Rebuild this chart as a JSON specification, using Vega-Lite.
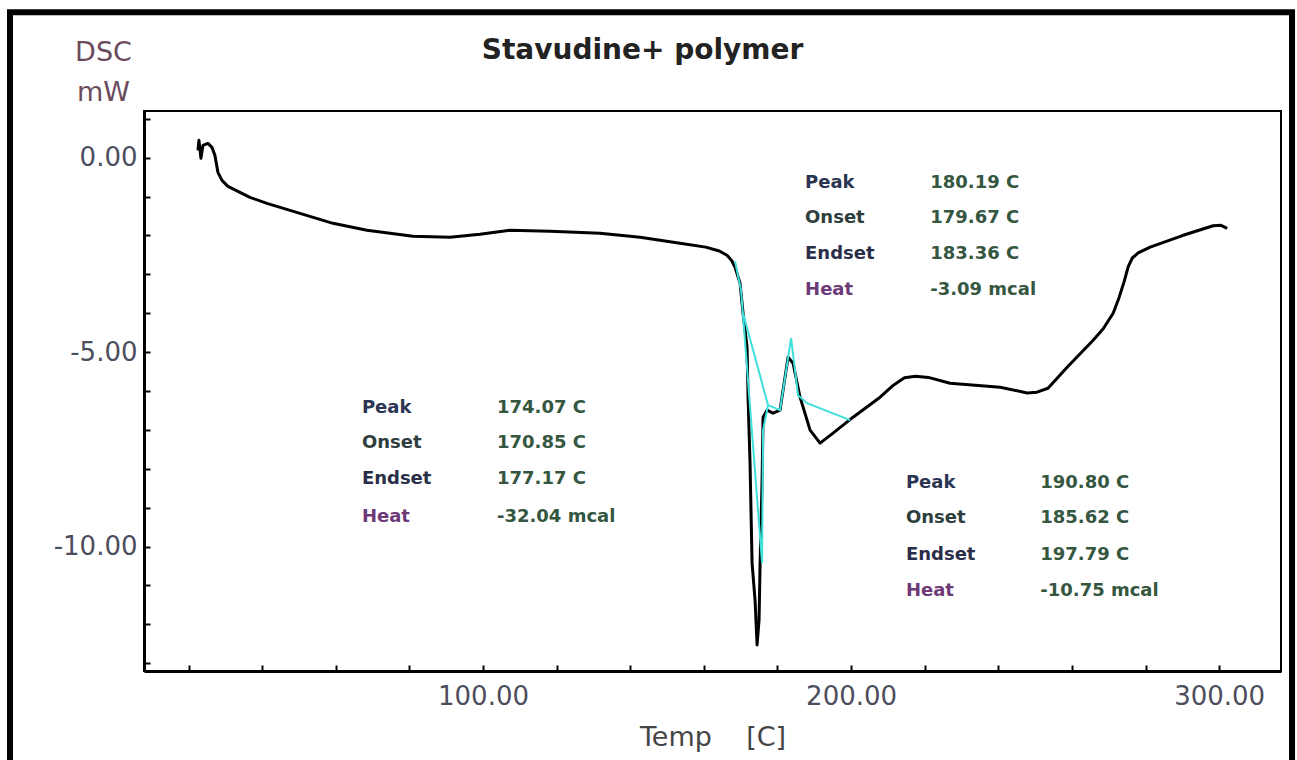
{
  "$schema": "https://vega.github.io/schema/vega-lite/v6.json",
  "width": 1137,
  "height": 560,
  "autosize": {"type": "none"},
  "padding": {"left": 144, "top": 111, "right": 16, "bottom": 89},
  "background": "white",
  "config": {"view": {"stroke": "black", "strokeWidth": 2}, "font": "DejaVu Sans"},
  "title": {"text": "Stavudine+ polymer", "anchor": "middle", "dx": -70, "fontSize": 28, "font": "DejaVu Sans", "fontWeight": "bold", "color": "#222222", "baseline": "alphabetic", "offset": -78},
  "datasets": {
    "frame": [{"T": -28.5, "T2": 319.8, "mW": 3.74, "mW2": -16.3}],
    "curve": [
      {"T": 22.55, "mW": 0.188}, {"T": 22.83, "mW": 0.445}, {"T": 23.37, "mW": -0.018}, {"T": 23.91, "mW": 0.316},
      {"T": 25.27, "mW": 0.367}, {"T": 26.36, "mW": 0.265}, {"T": 27.17, "mW": 0.059}, {"T": 27.99, "mW": -0.378},
      {"T": 29.08, "mW": -0.583}, {"T": 30.71, "mW": -0.737}, {"T": 36.68, "mW": -1.02}, {"T": 41.3, "mW": -1.174},
      {"T": 50.27, "mW": -1.431}, {"T": 59.24, "mW": -1.688}, {"T": 68.48, "mW": -1.868}, {"T": 80.98, "mW": -2.022},
      {"T": 91.03, "mW": -2.048}, {"T": 99.18, "mW": -1.971}, {"T": 107.34, "mW": -1.868}, {"T": 118.21, "mW": -1.894},
      {"T": 131.79, "mW": -1.945}, {"T": 142.66, "mW": -2.048}, {"T": 153.53, "mW": -2.202}, {"T": 160.5, "mW": -2.3},
      {"T": 164.2, "mW": -2.4}, {"T": 166.3, "mW": -2.51}, {"T": 167.6, "mW": -2.65}, {"T": 168.48, "mW": -2.819},
      {"T": 169.84, "mW": -3.23}, {"T": 170.65, "mW": -4.001},
      {"T": 171.74, "mW": -4.874}, {"T": 172.01, "mW": -6.159}, {"T": 172.55, "mW": -7.855}, {"T": 173.1, "mW": -10.424},
      {"T": 173.91, "mW": -11.375}, {"T": 174.46, "mW": -12.531}, {"T": 175.0, "mW": -11.888}, {"T": 175.27, "mW": -10.475},
      {"T": 175.82, "mW": -8.291}, {"T": 176.09, "mW": -6.672}, {"T": 177.17, "mW": -6.492}, {"T": 178.8, "mW": -6.57},
      {"T": 180.71, "mW": -6.492}, {"T": 181.52, "mW": -5.978}, {"T": 182.88, "mW": -5.13}, {"T": 184.24, "mW": -5.285},
      {"T": 186.14, "mW": -6.159}, {"T": 188.86, "mW": -7.007}, {"T": 191.58, "mW": -7.341}, {"T": 195.11, "mW": -7.084},
      {"T": 200.54, "mW": -6.673}, {"T": 207.88, "mW": -6.159}, {"T": 211.5, "mW": -5.85}, {"T": 214.5, "mW": -5.66},
      {"T": 217.5, "mW": -5.62}, {"T": 221.0, "mW": -5.65}, {"T": 226.9, "mW": -5.799}, {"T": 240.49, "mW": -5.902},
      {"T": 247.83, "mW": -6.05}, {"T": 250.5, "mW": -6.03}, {"T": 253.5, "mW": -5.93}, {"T": 258.7, "mW": -5.388},
      {"T": 265.76, "mW": -4.694}, {"T": 268.5, "mW": -4.4}, {"T": 271.2, "mW": -4.0}, {"T": 272.8, "mW": -3.6},
      {"T": 274.2, "mW": -3.18}, {"T": 275.3, "mW": -2.8}, {"T": 276.4, "mW": -2.58}, {"T": 278.0, "mW": -2.45},
      {"T": 281.25, "mW": -2.3}, {"T": 290.22, "mW": -1.996}, {"T": 298.37, "mW": -1.75}, {"T": 300.5, "mW": -1.74},
      {"T": 302.17, "mW": -1.816}
    ],
    "fit": [
      {"seg": "a", "T": 168.48, "mW": -2.665}, {"seg": "a", "T": 170.11, "mW": -3.41}, {"seg": "a", "T": 175.82, "mW": -10.424},
      {"seg": "a", "T": 176.09, "mW": -7.007}, {"seg": "a", "T": 177.45, "mW": -6.364}, {"seg": "a", "T": 180.71, "mW": -6.492},
      {"seg": "a", "T": 183.7, "mW": -4.642},
      {"seg": "b", "T": 170.65, "mW": -4.001}, {"seg": "b", "T": 177.45, "mW": -6.364},
      {"seg": "c", "T": 183.7, "mW": -4.642}, {"seg": "c", "T": 185.6, "mW": -6.107}, {"seg": "c", "T": 188.04, "mW": -6.312},
      {"seg": "c", "T": 199.73, "mW": -6.749}
    ],
    "notes": [
      {"role": "label", "name": "Peak", "text": "Peak", "T": 187.5, "mW": -0.66},
      {"role": "label", "name": "Onset", "text": "Onset", "T": 187.5, "mW": -1.56},
      {"role": "label", "name": "Endset", "text": "Endset", "T": 187.5, "mW": -2.485},
      {"role": "label", "name": "Heat", "text": "Heat", "T": 187.5, "mW": -3.41},
      {"role": "value", "name": "Peak", "text": "180.19 C", "T": 221.5, "mW": -0.66},
      {"role": "value", "name": "Onset", "text": "179.67 C", "T": 221.5, "mW": -1.56},
      {"role": "value", "name": "Endset", "text": "183.36 C", "T": 221.5, "mW": -2.485},
      {"role": "value", "name": "Heat", "text": "-3.09 mcal", "T": 221.5, "mW": -3.41},
      {"role": "label", "name": "Peak", "text": "Peak", "T": 67.1, "mW": -6.441},
      {"role": "label", "name": "Onset", "text": "Onset", "T": 67.1, "mW": -7.341},
      {"role": "label", "name": "Endset", "text": "Endset", "T": 67.1, "mW": -8.266},
      {"role": "label", "name": "Heat", "text": "Heat", "T": 67.1, "mW": -9.242},
      {"role": "value", "name": "Peak", "text": "174.07 C", "T": 103.8, "mW": -6.441},
      {"role": "value", "name": "Onset", "text": "170.85 C", "T": 103.8, "mW": -7.341},
      {"role": "value", "name": "Endset", "text": "177.17 C", "T": 103.8, "mW": -8.266},
      {"role": "value", "name": "Heat", "text": "-32.04 mcal", "T": 103.8, "mW": -9.242},
      {"role": "label", "name": "Peak", "text": "Peak", "T": 214.9, "mW": -8.369},
      {"role": "label", "name": "Onset", "text": "Onset", "T": 214.9, "mW": -9.268},
      {"role": "label", "name": "Endset", "text": "Endset", "T": 214.9, "mW": -10.219},
      {"role": "label", "name": "Heat", "text": "Heat", "T": 214.9, "mW": -11.144},
      {"role": "value", "name": "Peak", "text": "190.80 C", "T": 251.4, "mW": -8.369},
      {"role": "value", "name": "Onset", "text": "185.62 C", "T": 251.4, "mW": -9.268},
      {"role": "value", "name": "Endset", "text": "197.79 C", "T": 251.4, "mW": -10.219},
      {"role": "value", "name": "Heat", "text": "-10.75 mcal", "T": 251.4, "mW": -11.144}
    ]
  },
  "encoding": {
    "x": {
      "field": "T", "type": "quantitative",
      "scale": {"domain": [7.9, 316.8], "nice": false, "zero": false},
      "axis": {
        "values": [20, 40, 60, 80, 100, 120, 140, 160, 180, 200, 220, 240, 260, 280, 300],
        "labelExpr": "datum.value == 100 ? '100.00' : datum.value == 200 ? '200.00' : datum.value == 300 ? '300.00' : ''",
        "labelOverlap": false, "labelFlush": false,
        "grid": false, "domain": true, "domainColor": "black", "domainWidth": 3,
        "ticks": true, "tickColor": "black", "tickWidth": 2, "tickSize": -6,
        "labelFont": "DejaVu Sans", "labelFontSize": 26, "labelColor": "#4d4d5e", "labelPadding": 18,
        "title": "Temp\u00a0\u00a0\u00a0\u00a0[C]", "titleFont": "DejaVu Sans", "titleFontSize": 27, "titleFontWeight": "normal",
        "titleColor": "#454545", "titleBaseline": "alphabetic", "titleY": 74
      }
    },
    "y": {
      "field": "mW", "type": "quantitative",
      "scale": {"domain": [-13.2, 1.2], "nice": false, "zero": false},
      "axis": {
        "values": [1, 0, -1, -2, -3, -4, -5, -6, -7, -8, -9, -10, -11, -12, -13],
        "labelExpr": "datum.value == 0 ? '0.00' : datum.value == -5 ? '-5.00' : datum.value == -10 ? '-10.00' : ''",
        "labelOverlap": false, "labelFlush": false,
        "grid": false, "domain": true, "domainColor": "black", "domainWidth": 3,
        "ticks": true, "tickColor": "black", "tickWidth": 2, "tickSize": -6,
        "labelFont": "DejaVu Sans", "labelFontSize": 26, "labelColor": "#4d4d5e", "labelPadding": 13,
        "title": ["DSC", "mW"], "titleAngle": 0, "titleAlign": "center", "titleBaseline": "top",
        "titleX": -41, "titleY": -72, "titleFont": "DejaVu Sans", "titleFontSize": 27, "titleFontWeight": "normal",
        "titleColor": "#6b4a5c", "titleLineHeight": 40
      }
    }
  },
  "layer": [
    {
      "data": {"name": "frame"},
      "mark": {"type": "rect", "fill": null, "fillOpacity": 0, "stroke": "black", "strokeWidth": 6, "clip": false},
      "encoding": {"x2": {"field": "T2"}, "y2": {"field": "mW2"}}
    },
    {
      "data": {"name": "curve"},
      "mark": {"type": "line", "color": "black", "strokeWidth": 3, "strokeJoin": "round"},
      "encoding": {}
    },
    {
      "data": {"name": "fit"},
      "mark": {"type": "line", "color": "#3fe0dc", "strokeWidth": 2},
      "encoding": {"detail": {"field": "seg"}}
    },
    {
      "data": {"name": "notes"},
      "transform": [{"filter": "datum.role == 'label'"}],
      "mark": {"type": "text", "align": "left", "baseline": "middle", "font": "DejaVu Sans", "fontWeight": "bold", "fontSize": 18},
      "encoding": {
        "text": {"field": "text"},
        "color": {"field": "name", "type": "nominal", "scale": {"domain": ["Peak", "Onset", "Endset", "Heat"], "range": ["#2b3452", "#2e3d3d", "#2a2e48", "#6d3a78"]}, "legend": null}
      }
    },
    {
      "data": {"name": "notes"},
      "transform": [{"filter": "datum.role == 'value'"}],
      "mark": {"type": "text", "align": "left", "baseline": "middle", "font": "DejaVu Sans", "fontWeight": "bold", "fontSize": 18, "color": "#35563f"},
      "encoding": {"text": {"field": "text"}}
    }
  ]
}
